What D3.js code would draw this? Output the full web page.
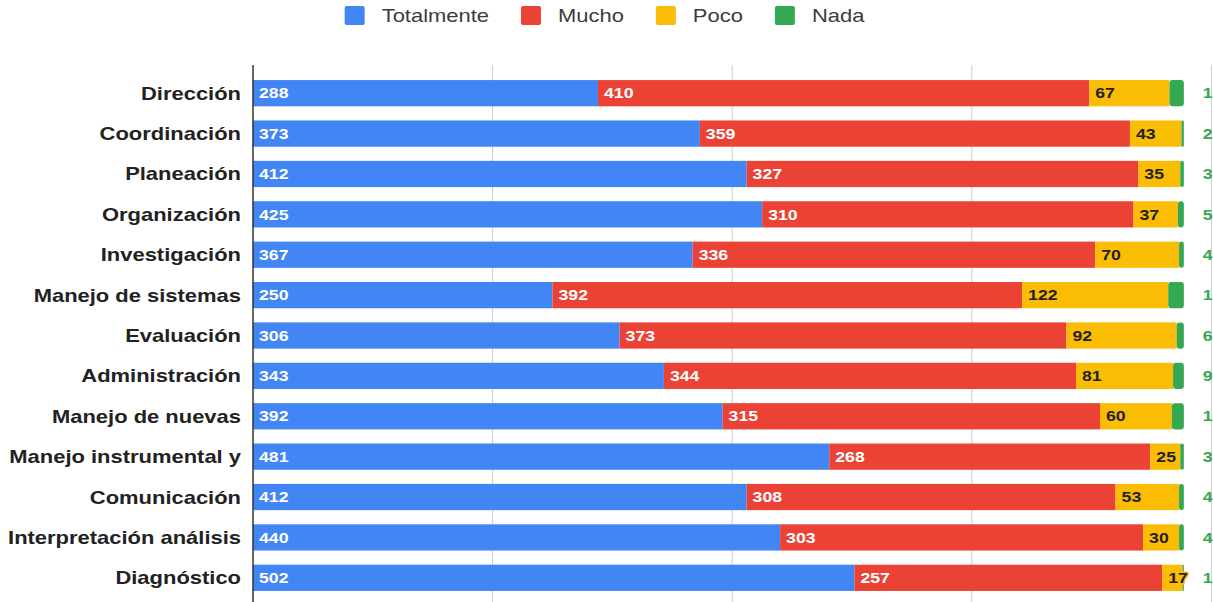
<!DOCTYPE html>
<html>
<head>
<meta charset="utf-8">
<script src="https://cdn.jsdelivr.net/npm/d3@7"></script>
<style>
  body { margin: 0; background: #fff; }
  svg { display: block; font-family: Arial, "Liberation Sans", sans-serif; }
</style>
</head>
<body>
<div id="chart"></div>
<script>
// categories and series values
const categories = ["Dirección", "Coordinación", "Planeación", "Organización", "Investigación",
    "Manejo de sistemas", "Evaluación", "Administración", "Manejo de nuevas",
    "Manejo instrumental y", "Comunicación", "Interpretación análisis", "Diagnóstico"];
const seriesNames = ["Totalmente", "Mucho", "Poco", "Nada"];
const totalmente = [288, 373, 412, 425, 367, 250, 306, 343, 392, 481, 412, 440, 502];
const mucho = [410, 359, 327, 310, 336, 392, 373, 344, 315, 268, 308, 303, 257];
const poco = [67, 43, 35, 37, 70, 122, 92, 81, 60, 25, 53, 30, 17];
const nada = [12, 2, 3, 5, 4, 13, 6, 9, 10, 3, 4, 4, 1];
const xTicks = [0, 200, 400, 600, 800];

const width = 1213, height = 602;
const colors = ["#4285F4", "#EA4335", "#FBBC04", "#34A853"];
const SX = 1.22; // text in the picture is a bit wider than plain Arial

const rows = categories.map((c, i) => ({
    cat: c, Totalmente: totalmente[i], Mucho: mucho[i], Poco: poco[i], Nada: nada[i]
}));
const stacked = d3.stack().keys(seriesNames)(rows);

const x = d3.scaleLinear().domain([0, 800]).range([253, 1211.4]);
const y = d3.scaleBand().domain(categories).range([73, 598])
    .paddingInner(0.35).paddingOuter(0.175);

const svg = d3.select("#chart").append("svg")
    .attr("width", width)
    .attr("height", height)
    .attr("viewBox", [0, 0, width, height]);

// helper: place a text with horizontal stretch
function placeText(sel, fx, fy) {
    return sel.attr("transform", (d, i) => `translate(${fx(d, i)},${fy(d, i)}) scale(${SX},1)`);
}

// gridlines
svg.append("g")
    .selectAll("line")
    .data(xTicks.slice(1))
    .join("line")
    .attr("x1", d => x(d)).attr("x2", d => x(d))
    .attr("y1", 65).attr("y2", height)
    .attr("stroke", "#cccccc")
    .attr("stroke-width", 1);

// bars
const layer = svg.append("g")
    .selectAll("g")
    .data(stacked)
    .join("g")
    .attr("fill", (d, i) => colors[i]);

layer.selectAll("rect")
    .data(d => d)
    .join("rect")
    .attr("x", d => x(d[0]))
    .attr("y", d => y(d.data.cat))
    .attr("width", d => x(d[1]) - x(d[0]))
    .attr("height", y.bandwidth());

// round the right end of the last segment
layer.filter((d, i) => i === 3).selectAll("rect")
    .attr("rx", d => Math.min(3, (x(d[1]) - x(d[0])) / 2));

// left axis line
svg.append("line")
    .attr("x1", 253).attr("x2", 253)
    .attr("y1", 65).attr("y2", height)
    .attr("stroke", "#333333")
    .attr("stroke-width", 1.5);

// value labels inside segments
stacked.slice(0, 3).forEach((s, si) => {
    placeText(svg.append("g")
        .selectAll("text")
        .data(s)
        .join("text")
        .attr("dy", "0.36em")
        .attr("font-size", 14.5)
        .attr("font-weight", "bold")
        .attr("fill", si === 2 ? "#222222" : "#ffffff")
        .attr("stroke", colors[si])
        .attr("stroke-width", 3)
        .attr("paint-order", "stroke")
        .attr("stroke-linejoin", "round")
        .text(d => d[1] - d[0]),
        d => x(d[0]) + 6, d => y(d.data.cat) + y.bandwidth() / 2);
});

// Nada labels outside the bar (cut by the right edge as in the picture)
placeText(svg.append("g")
    .selectAll("text")
    .data(stacked[3])
    .join("text")
    .attr("dy", "0.36em")
    .attr("font-size", 14.5)
    .attr("font-weight", "bold")
    .attr("fill", "#34A853")
    .text(d => d[1] - d[0]),
    d => x(d[1]) + 19, d => y(d.data.cat) + y.bandwidth() / 2);

// category labels
placeText(svg.append("g")
    .selectAll("text")
    .data(categories)
    .join("text")
    .attr("text-anchor", "end")
    .attr("dy", "0.36em")
    .attr("font-size", 18)
    .attr("font-weight", "bold")
    .attr("fill", "#222222")
    .text(d => d),
    () => 241, d => y(d) + y.bandwidth() / 2);

// legend
const legend = svg.append("g");
const items = legend.selectAll("g")
    .data(seriesNames)
    .join("g");
items.append("rect")
    .attr("width", 20).attr("height", 19)
    .attr("y", 6)
    .attr("rx", 2)
    .attr("fill", (d, i) => colors[i]);
const ltext = items.append("text")
    .attr("font-size", 18)
    .attr("fill", "#3c3c3c")
    .attr("dy", "0.36em")
    .text(d => d);
ltext.attr("transform", `translate(37,16) scale(${SX},1)`);
let offs = [];
let cx = 0;
ltext.each(function (d, i) {
    offs.push(cx);
    cx += 37 + this.getComputedTextLength() * SX + 32;
});
const total = cx - 32;
const start = width / 2 - total / 2 - 2;
items.attr("transform", (d, i) => `translate(${start + offs[i]},0)`);
</script>
</body>
</html>
